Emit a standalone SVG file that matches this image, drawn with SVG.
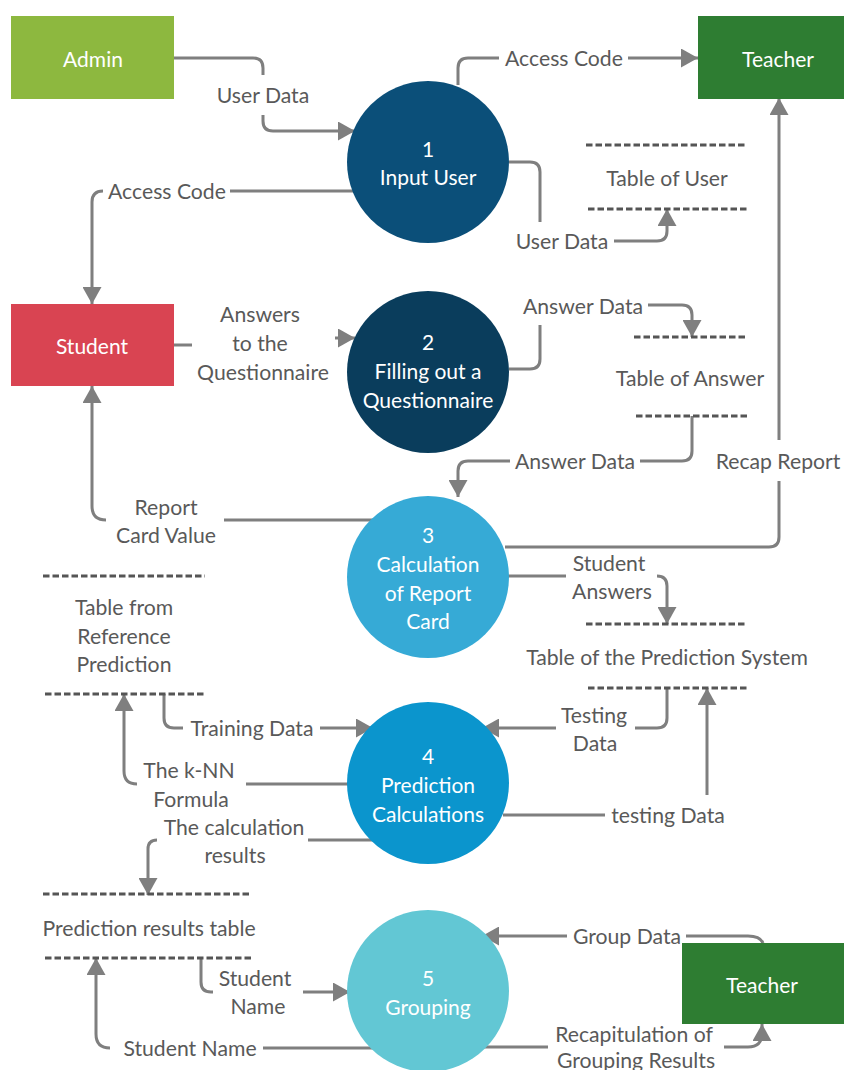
<svg xmlns="http://www.w3.org/2000/svg" width="845" height="1070" viewBox="0 0 845 1070">
<style>
.c{fill:none;stroke:#7f7f7f;stroke-width:3;stroke-linecap:butt}
.a{marker-end:url(#ah)}
.l{font-family:Lato,"Liberation Sans",sans-serif;font-size:21.2px;fill:#595959;text-anchor:middle;dominant-baseline:central}
.n{font-family:Lato,"Liberation Sans",sans-serif;font-size:21px;fill:#ffffff;text-anchor:middle;dominant-baseline:central}
.d{stroke:#555555;stroke-width:3;stroke-dasharray:6.5 3;fill:none}
</style>
<defs>
<marker id="ah" viewBox="0 0 17 19" refX="17" refY="9.5" markerWidth="17" markerHeight="19" markerUnits="userSpaceOnUse" orient="auto">
<path d="M0,0 L17,9.5 L0,19 Z" fill="#7f7f7f"/>
</marker>
</defs>
<rect width="845" height="1070" fill="#ffffff"/>

<g id="connectors">
<path class="c" d="M174,58 H253 Q263,58 263,68 V75"/>
<path class="c a" d="M263,115 V121 Q263,131 273,131 H355"/>
<path class="c" d="M458,85 V68 Q458,58 468,58 H499"/>
<path class="c a" d="M628,58 H698"/>
<path class="c" d="M353,191 H230"/>
<path class="c a" d="M103,191 Q92,191 92,202 V304"/>
<path class="c" d="M509,162 H530 Q540,162 540,172 V222"/>
<path class="c a" d="M614,241 H657 Q667,241 667,231 V209"/>
<path class="c" d="M505,547 H769 Q779,547 779,537 V481"/>
<path class="c a" d="M779,440 V98"/>
<path class="c" d="M174,345 H192"/>
<path class="c a" d="M335,338 H355"/>
<path class="c" d="M509,369 H530 Q540,369 540,359 V325"/>
<path class="c a" d="M648,305 H682 Q692,305 692,315 V337"/>
<path class="c" d="M692,416 V451 Q692,461 682,461 H640"/>
<path class="c a" d="M510,461 H468 Q458,461 458,471 V497"/>
<path class="c" d="M373,520 H224"/>
<path class="c a" d="M106,520 Q92,520 92,506 V386"/>
<path class="c" d="M507,576 H566"/>
<path class="c a" d="M657,576 Q667,576 667,586 V624"/>
<path class="c" d="M667,688 V718 Q667,728 657,728 H635"/>
<path class="c a" d="M556,728 H482"/>
<path class="c" d="M503,815 H605"/>
<path class="c a" d="M707,795 V688"/>
<path class="c" d="M164,694 V718 Q164,728 174,728 H183"/>
<path class="c a" d="M320,728 H373"/>
<path class="c" d="M349,784 H246"/>
<path class="c a" d="M137,784 Q124,784 124,771 V694"/>
<path class="c" d="M373,840 H308"/>
<path class="c a" d="M157,840 Q148,840 148,849 V895"/>
<path class="c" d="M201,958 V982 Q201,992 211,992 H213"/>
<path class="c a" d="M303,992 H350"/>
<path class="c" d="M373,1048 H263"/>
<path class="c a" d="M110,1048 Q96,1048 96,1034 V958"/>
<path class="c" d="M763,943 Q760,936 748,936 H686"/>
<path class="c a" d="M567,936 H482"/>
<path class="c" d="M483,1047 H548"/>
<path class="c a" d="M724,1047 H748 Q762,1047 762,1033 V1024"/>

<text class="l" x="263" y="95">User Data</text>
<text class="l" x="564" y="58">Access Code</text>
<text class="l" x="167" y="191">Access Code</text>
<text class="l" x="562" y="241">User Data</text>
<text class="l" x="778" y="461">Recap Report</text>
<text class="l" x="260" y="314">Answers</text>
<text class="l" x="260" y="343">to the</text>
<text class="l" x="263" y="372">Questionnaire</text>
<text class="l" x="583" y="306">Answer Data</text>
<text class="l" x="575" y="461">Answer Data</text>
<text class="l" x="166" y="507">Report</text>
<text class="l" x="166" y="535">Card Value</text>
<text class="l" x="609" y="563">Student</text>
<text class="l" x="612" y="591">Answers</text>
<text class="l" x="594" y="715">Testing</text>
<text class="l" x="595" y="743">Data</text>
<text class="l" x="668" y="815">testing Data</text>
<text class="l" x="252" y="728">Training Data</text>
<text class="l" x="189" y="770">The k-NN</text>
<text class="l" x="191" y="799">Formula</text>
<text class="l" x="234" y="827">The calculation</text>
<text class="l" x="235" y="855">results</text>
<text class="l" x="255" y="978">Student</text>
<text class="l" x="258" y="1006">Name</text>
<text class="l" x="190" y="1048">Student Name</text>
<text class="l" x="627" y="936">Group Data</text>
<text class="l" x="634" y="1034">Recapitulation of</text>
<text class="l" x="636" y="1060">Grouping Results</text>
</g>

<g id="admin">
<rect x="11" y="16" width="163" height="83" fill="#8db83f"/>
<text class="n" x="93" y="58">Admin</text>
</g>
<g id="teacher-top">
<rect x="698" y="16" width="146" height="83" fill="#2e7d32"/>
<text class="n" x="778" y="58">Teacher</text>
</g>
<g id="student">
<rect x="11" y="304" width="163" height="82" fill="#d94452"/>
<text class="n" x="92" y="345">Student</text>
</g>
<g id="teacher-bottom">
<rect x="682" y="943" width="162" height="81" fill="#2e7d32"/>
<text class="n" x="762" y="984">Teacher</text>
</g>

<g id="p1">
<circle cx="428" cy="162" r="81" fill="#0b4f79"/>
<text class="n" x="428" y="148">1</text>
<text class="n" x="428" y="176">Input User</text>
</g>
<g id="p2">
<circle cx="428" cy="372" r="81" fill="#0a3d5c"/>
<text class="n" x="428" y="341">2</text>
<text class="n" x="428" y="370">Filling out a</text>
<text class="n" x="428" y="399">Questionnaire</text>
</g>
<g id="p3">
<circle cx="428" cy="577" r="81" fill="#36aad6"/>
<text class="n" x="428" y="534">3</text>
<text class="n" x="428" y="563">Calculation</text>
<text class="n" x="428" y="592">of Report</text>
<text class="n" x="428" y="620">Card</text>
</g>
<g id="p4">
<circle cx="428" cy="783" r="81" fill="#0b95cd"/>
<text class="n" x="428" y="755">4</text>
<text class="n" x="428" y="784">Prediction</text>
<text class="n" x="428" y="813">Calculations</text>
</g>
<g id="p5">
<circle cx="428" cy="991" r="81" fill="#62c7d4"/>
<text class="n" x="428" y="977">5</text>
<text class="n" x="428" y="1006">Grouping</text>
</g>

<g id="table-user">
<path class="d" d="M586,145 H747 M588,209 H749"/>
<text class="l" x="667" y="178">Table of User</text>
</g>
<g id="table-answer">
<path class="d" d="M634,337 H747 M636,416 H749"/>
<text class="l" x="690" y="378">Table of Answer</text>
</g>
<g id="table-prediction-system">
<path class="d" d="M586,624 H747 M588,688 H749"/>
<text class="l" x="667" y="657">Table of the Prediction System</text>
</g>
<g id="table-reference">
<path class="d" d="M43,576 H205 M45,694 H206"/>
<text class="l" x="124" y="607">Table from</text>
<text class="l" x="124" y="636">Reference</text>
<text class="l" x="124" y="664">Prediction</text>
</g>
<g id="table-results">
<path class="d" d="M43,894 H252 M45,958 H254"/>
<text class="l" x="149" y="928">Prediction results table</text>
</g>
</svg>
